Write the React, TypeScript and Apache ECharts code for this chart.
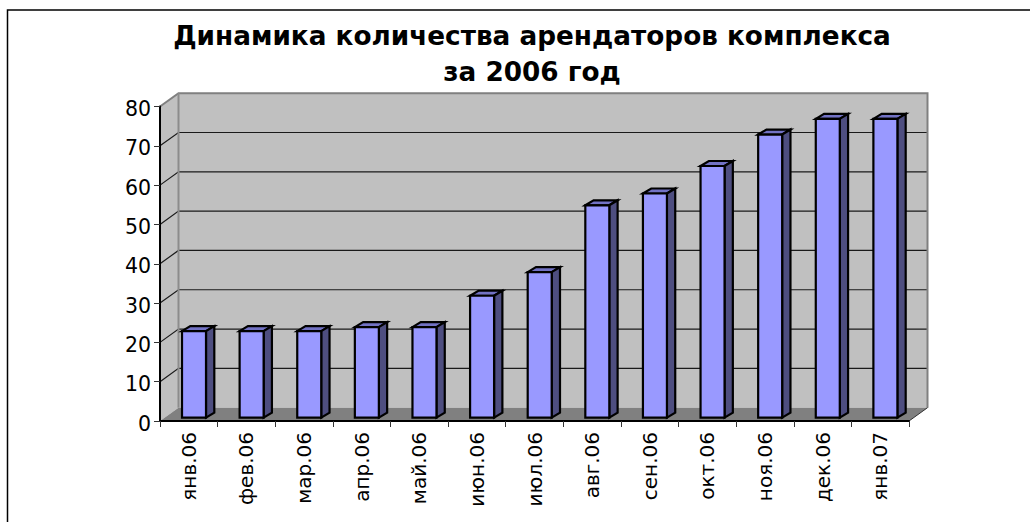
import React, { useEffect, useRef } from "react";
import * as echarts from "echarts";

const titleText = "Динамика количества арендаторов комплекса\nза 2006 год";
const categories = ["янв.06", "фев.06", "мар.06", "апр.06", "май.06", "июн.06", "июл.06", "авг.06", "сен.06", "окт.06", "ноя.06", "дек.06", "янв.07"];
const tenants = [22, 22, 22, 23, 23, 31, 37, 54, 57, 64, 72, 76, 76];
const gridValues = [10, 20, 30, 40, 50, 60, 70];

const DX = 18.5;
const DY = -13.3;
const BAR_W = 24;
const BAR_DX = 8.3;
const BAR_DY = -5;
const BASE_DX = 5.2;
const BASE_DY = -3.4;

const wallRender = (_p: any, api: any) => {
  const [x0, y0] = api.coord([0, 0]);
  const band = api.size([1, 0])[0];
  const L = x0 - band / 2;
  const R = L + band * categories.length;
  const B = y0;
  const T = api.coord([0, 80])[1];
  const children: any[] = [
    { type: "polygon", shape: { points: [[L, T], [L + DX, T + DY], [L + DX, B + DY], [L, B]] }, style: { fill: "#C0C0C0" } },
    { type: "polygon", shape: { points: [[L + DX, T + DY], [R + DX, T + DY], [R + DX, B + DY], [L + DX, B + DY]] }, style: { fill: "#C0C0C0" } },
    { type: "polygon", shape: { points: [[L, B], [L + DX, B + DY], [R + DX, B + DY], [R, B]] }, style: { fill: "#808080" } },
  ];
  gridValues.forEach((v) => {
    const y = api.coord([0, v])[1];
    children.push({ type: "polyline", shape: { points: [[L, y], [L + DX, y + DY], [R + DX, y + DY]] }, style: { fill: "none", stroke: "#1a1a1a", lineWidth: 1.2 } });
  });
  children.push({ type: "polyline", shape: { points: [[L, T], [L + DX, T + DY], [R + DX, T + DY], [R + DX, B + DY]] }, style: { fill: "none", stroke: "#808080", lineWidth: 2 } });
  children.push({ type: "line", shape: { x1: L + DX, y1: T + DY, x2: L + DX, y2: B + DY }, style: { stroke: "#8c8c8c", lineWidth: 2 } });
  children.push({ type: "line", shape: { x1: R, y1: B, x2: R + DX, y2: B + DY }, style: { stroke: "#333333", lineWidth: 1 } });
  return { type: "group", children };
};

const barRender = (_p: any, api: any) => {
  const idx = api.value(0);
  const [cx, y0] = api.coord([idx, 0]);
  const yv = api.coord([idx, api.value(1)])[1];
  const l = cx + BASE_DX - BAR_W / 2;
  const r = l + BAR_W;
  const b = y0 + BASE_DY;
  const t = yv + BASE_DY;
  const stroke = { stroke: "#000000", lineWidth: 2.2, lineJoin: "miter" };
  return {
    type: "group",
    children: [
      { type: "polygon", shape: { points: [[l, t], [l + BAR_DX, t + BAR_DY], [r + BAR_DX, t + BAR_DY], [r, t]] }, style: { fill: "#7272C4", ...stroke } },
      { type: "polygon", shape: { points: [[r, t], [r + BAR_DX, t + BAR_DY], [r + BAR_DX, b + BAR_DY], [r, b]] }, style: { fill: "#4E4E80", ...stroke } },
      { type: "polygon", shape: { points: [[l, t], [r, t], [r, b], [l, b]] }, style: { fill: "#9999FF", ...stroke } },
    ],
  };
};

export default function App() {
  const ref = useRef<HTMLDivElement>(null);
  useEffect(() => {
    const chart = echarts.init(ref.current!, undefined, { renderer: "svg" });
    chart.setOption({
      animation: false,
      backgroundColor: "#ffffff",
      title: {
        text: titleText,
        left: 527,
        top: 13,
        textAlign: "center",
        textStyle: { fontFamily: "DejaVu Sans", fontSize: 26.3, fontWeight: "bold", color: "#000", lineHeight: 36 },
      },
      grid: { left: 160, right: 121, top: 106.5, bottom: 101 },
      xAxis: {
        type: "category",
        data: categories,
        boundaryGap: true,
        axisLine: { lineStyle: { color: "#000", width: 2 } },
        axisTick: { show: true, length: 6, lineStyle: { color: "#333", width: 1 } },
        axisLabel: { rotate: 90, interval: 0, margin: 11, fontFamily: "DejaVu Sans", fontSize: 20, color: "#000" },
        splitLine: { show: false },
      },
      yAxis: {
        type: "value",
        min: 0,
        max: 80,
        interval: 10,
        axisLine: { show: true, lineStyle: { color: "#000", width: 2 } },
        axisTick: { show: true, length: 6, lineStyle: { color: "#333", width: 1 } },
        axisLabel: { margin: 9, verticalAlign: "top", lineHeight: 5, fontFamily: "DejaVu Sans", fontSize: 20.5, color: "#000" },
        splitLine: { show: false },
      },
      graphic: [
        { type: "polyline", silent: true, shape: { points: [[7.5, 522], [7.5, 10], [1030, 10]] }, style: { fill: "none", stroke: "#000", lineWidth: 1.5 } },
      ],
      series: [
        { type: "custom", coordinateSystem: "cartesian2d", clip: false, z: 0, renderItem: wallRender, data: [[0, 0]], silent: true },
        { type: "custom", coordinateSystem: "cartesian2d", clip: false, z: 1, renderItem: barRender, data: tenants.map((v, i) => [i, v]), encode: { x: 0, y: 1 }, silent: true },
      ],
    });
    return () => chart.dispose();
  }, []);
  return <div ref={ref} style={{ position: "absolute", left: 0, top: 0, width: 1030, height: 522 }} />;
}
